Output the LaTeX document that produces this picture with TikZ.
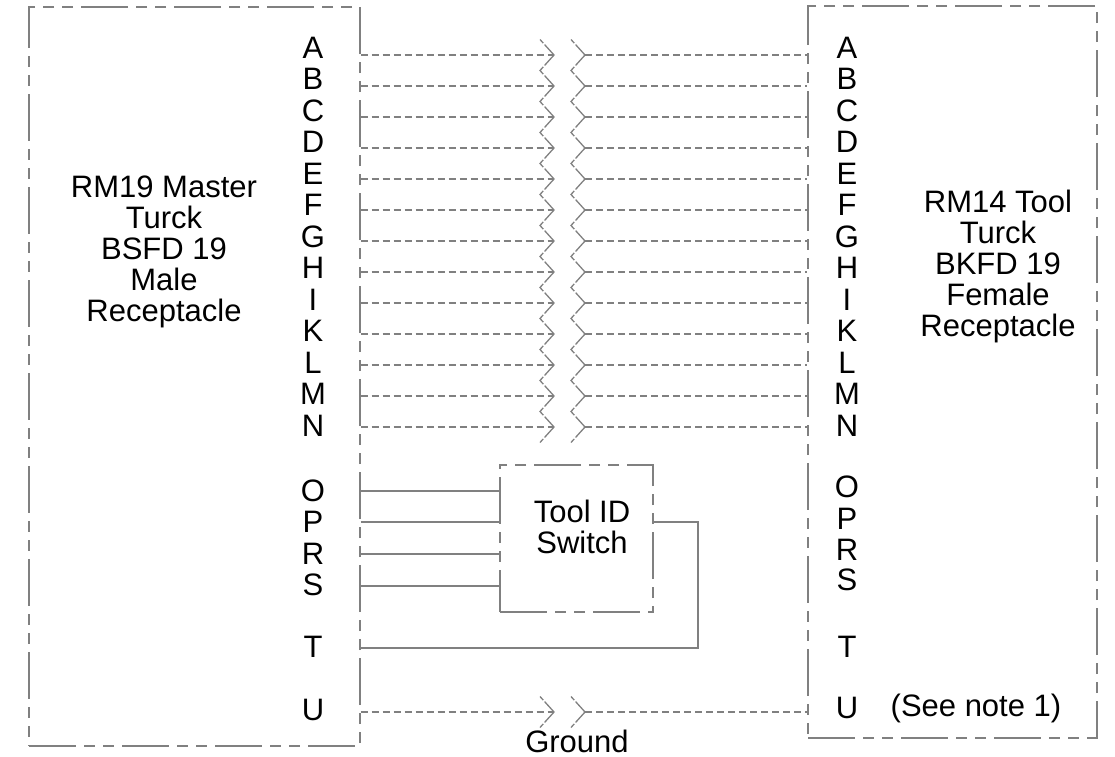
\documentclass[tikz,border=0pt]{standalone}
\usepackage{fontspec}
\setmainfont{Liberation Sans}
\begin{document}
\begin{tikzpicture}[x=0.5pt,y=-0.5pt,
  wire/.style={gray,line width=0.65pt,dash pattern=on 3.5pt off 2pt},
  zigzag/.style={gray,line width=0.65pt,dash pattern=on 14pt off 1pt on 4.89pt off 1pt,dash phase=17.45pt},
  lead/.style={gray,line width=0.65pt},
  frame/.style={draw=gray,line width=0.65pt,dash pattern=on 23.5pt off 4pt on 5.5pt off 4pt on 5.5pt off 4pt},
  lbl/.style={font=\fontsize{15.5}{15.5}\selectfont,inner sep=0pt},
  title/.style={lbl,align=center}]
\useasboundingbox (0,0) rectangle (1115,756);
% connector housings
\node [frame,minimum width=165.5pt,minimum height=369.5pt,inner sep=0pt] (master) at (194.5,376.5) {};
\node [frame,minimum width=144.5pt,minimum height=366pt,inner sep=0pt] (tool) at (952.5,372) {};
\node [frame,minimum width=76.5pt,minimum height=73.5pt,inner sep=0pt] (switch) at (576.5,538.5) {};
\node [title] (mtitle) at (164,252) {RM19 Master\\Turck\\BSFD 19\\Male\\Receptacle};
\node [title] (ttitle) at (998,266) {RM14 Tool\\Turck\\BKFD 19\\Female\\Receptacle};
\node [title] (swtitle) at (582,527) {Tool ID\\Switch};
% pins A..N, wired straight through
\foreach \p [count=\i from 0] in {A,B,C,D,E,F,G,H,I,K,L,M,N} {
  \node [lbl] (m\p) at (313,47.5+31.5*\i) {\p};
  \node [lbl] (t\p) at (847,47.5+31.5*\i) {\p};
  \coordinate (ma\p) at (master.east |- 0,55+31*\i);
  \coordinate (mb\p) at (554,55+31*\i);
  \coordinate (ta\p) at (585,55+31*\i);
  \coordinate (tb\p) at (tool.west |- 0,55+31*\i);
  \draw [wire] (ma\p) -- (mb\p);
  \draw [wire] (ta\p) -- (tb\p);
}
\draw [zigzag] (540,39.5) \foreach \i in {0,...,12} {-- (554,55+31*\i) -- (540,70.5+31*\i)};
\draw [zigzag] (571,39.5) \foreach \i in {0,...,12} {-- (585,55+31*\i) -- (571,70.5+31*\i)};
% pins O..U
\foreach \p/\y/\z in {O/491/487,P/522/519,R/554/550,S/585/580,T/647/647,U/710/708} {
  \node [lbl] (m\p) at (313,\y) {\p};
  \node [lbl] (t\p) at (847,\z) {\p};
}
\foreach \p/\y in {O/491,P/522,R/554,S/586} {
  \coordinate (ma\p) at (master.east |- 0,\y);
  \draw [lead] (ma\p) -- (ma\p -| switch.west);
}
\coordinate (maT) at (master.east |- 0,648);
\coordinate (swT) at (switch.east |- 0,522);
\draw [lead] (maT) -- (698,648) -- (698,522) -- (swT);
% ground
\coordinate (maU) at (master.east |- 0,712);
\coordinate (mbU) at (554,712);
\coordinate (taU) at (585,712);
\coordinate (tbU) at (tool.west |- 0,712);
\draw [wire] (maU) -- (mbU);
\draw [wire] (taU) -- (tbU);
\draw [zigzag] (540,696.5) -- (mbU) -- (540,727.5);
\draw [zigzag] (571,696.5) -- (taU) -- (571,727.5);
\node [lbl] (gnd) at (577,741) {Ground};
\node [lbl] (note) at (976,708) {(See note 1)};
\end{tikzpicture}
\end{document}
